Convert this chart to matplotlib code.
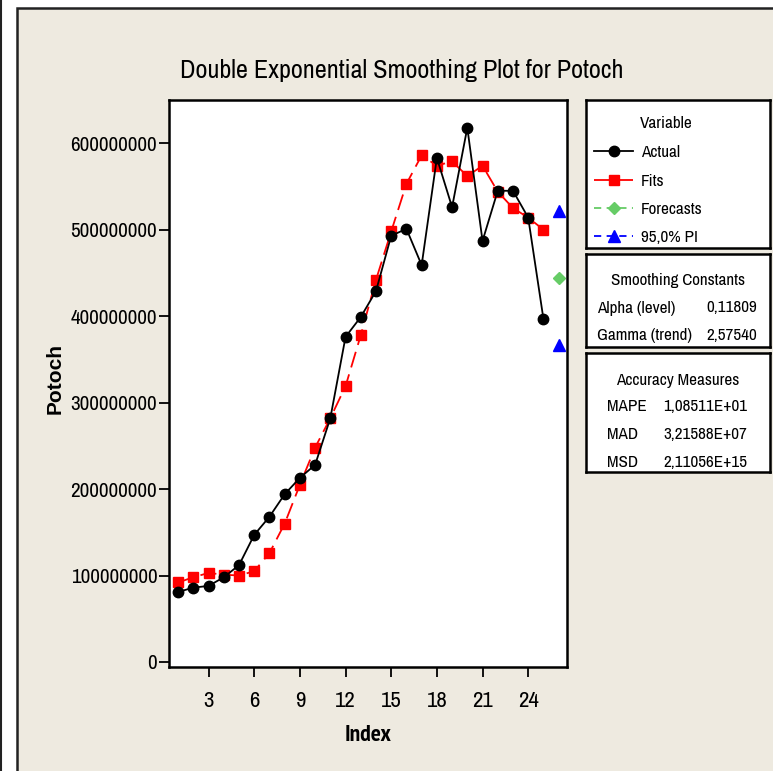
import matplotlib
matplotlib.use('Agg')
import matplotlib.pyplot as plt
import matplotlib.patches as mpatches

NARROW = ['Archivo Narrow', 'PT Sans Narrow', 'DejaVu Sans']
NARROW_BOLD = ['PT Sans Narrow', 'Archivo Narrow', 'DejaVu Sans']
BOLD_WIDE = ['Liberation Sans', 'DejaVu Sans']
plt.rcParams['font.family'] = NARROW

# --- data ---
index = list(range(1, 26))
actual = [81e6, 86e6, 88e6, 98e6, 112e6, 147e6, 168e6, 194e6, 213e6, 228e6,
          282e6, 376e6, 399e6, 429e6, 493e6, 501e6, 459e6, 583e6, 526e6, 618e6,
          487e6, 545e6, 545e6, 514e6, 397e6]
fits = [92e6, 98e6, 103e6, 101e6, 100e6, 105e6, 126e6, 160e6, 205e6, 248e6,
        282e6, 319e6, 378e6, 442e6, 498e6, 553e6, 586e6, 574e6, 579e6, 562e6,
        574e6, 544e6, 525e6, 514e6, 500e6]
forecast_index = [26]
forecasts = [444e6]
pi_index = [26, 26]
pi_bounds = [522e6, 367e6]

xticks = [3, 6, 9, 12, 15, 18, 21, 24]
yticks = [0, 100e6, 200e6, 300e6, 400e6, 500e6, 600e6]

smoothing = [('Alpha (level)', '0,11809'), ('Gamma (trend)', '2,57540')]
accuracy = [('MAPE', '1,08511E+01'), ('MAD', '3,21588E+07'), ('MSD', '2,11056E+15')]

W, H = 773, 771
BG = '#EEEAE0'


def box(x0, y0, x1, y1):
    """pixel box (top-left origin) -> figure rect"""
    return [x0 / W, 1 - y1 / H, (x1 - x0) / W, (y1 - y0) / H]


fig = plt.figure(figsize=(W / 100, H / 100), dpi=100)
fig.patch.set_facecolor('white')

# outer frame like the screenshot
fig.add_artist(mpatches.Rectangle((17 / W, -0.01), 1.01 - 17 / W, 1.01 - 8 / H,
                                  transform=fig.transFigure, facecolor=BG,
                                  edgecolor='#222222', linewidth=1.8, zorder=-5))
fig.add_artist(plt.Line2D([1 / W, 1 / W], [0, 1], transform=fig.transFigure,
                          color='#222222', linewidth=1.5))

ax = fig.add_axes(box(169, 100, 567, 667))
ax.set_facecolor('white')

line_act, = ax.plot(index, actual, color='black', linewidth=1.3, marker='o',
                    markersize=7.5, label='Actual', zorder=3)
line_fit, = ax.plot(index, fits, color='#FF0000', linewidth=1.3,
                    linestyle=(0, (9, 4)), marker='s', markersize=6.8,
                    label='Fits', zorder=2)
line_fc, = ax.plot(forecast_index, forecasts, color='#66CC66', linewidth=1.3,
                   linestyle=(0, (4, 3)), marker='D', markersize=6.5,
                   label='Forecasts', zorder=3)
line_pi, = ax.plot(pi_index, pi_bounds, color='#0000FF', linewidth=0,
                   marker='^', markersize=8, label='95,0% PI', zorder=3)

ax.set_xlim(0.4, 26.55)
ax.set_ylim(-5.8e6, 650e6)
ax.set_xticks(xticks)
ax.set_yticks(yticks)
ax.set_yticklabels([f'{int(v)}' for v in yticks])
ax.tick_params(axis='both', direction='out', width=1.3)
ax.tick_params(axis='x', length=7.5, pad=10, labelsize=16.5)
ax.tick_params(axis='y', length=7, pad=1.5, labelsize=15.2)
for sp in ax.spines.values():
    sp.set_linewidth(1.8)

ax.set_xlabel('Index', fontsize=17, fontweight='bold', labelpad=10,
              family=NARROW_BOLD)
fig.text(55 / W, 1 - 379 / H, 'Potoch', rotation=90, ha='center', va='center',
         fontsize=15, fontweight='bold', family=BOLD_WIDE)
fig.text(402 / W, 1 - 70 / H, 'Double Exponential Smoothing Plot for Potoch',
         ha='center', va='center', fontsize=18.8)

# --- legend panel ---
p1 = fig.add_axes(box(586, 100, 770, 248))
p2 = fig.add_axes(box(586, 254, 770, 347))
p3 = fig.add_axes(box(586, 353, 770, 472))
for p in (p1, p2, p3):
    p.set_xticks([])
    p.set_yticks([])
    p.set_facecolor('white')
    for sp in p.spines.values():
        sp.set_linewidth(1.8)

FS = 12.3
p1.text((640 - 586) / 184, 1 - (124 - 100) / 148, 'Variable', fontsize=FS,
        va='center', ha='left')
pi_handle = plt.Line2D([], [], color='#0000FF', linewidth=1.3,
                       linestyle=(0, (4, 3)), marker='^', markersize=8)
leg = p1.legend([line_act, line_fit, line_fc, pi_handle],
                ['Actual', 'Fits', 'Forecasts', '95,0% PI'],
                loc='upper left', bbox_to_anchor=(-0.022, 0.775), frameon=False,
                fontsize=FS, handlelength=2.3, handletextpad=0.45,
                labelspacing=0.78, borderaxespad=0.3)

p2.text(0.5, 1 - (280 - 254) / 93, 'Smoothing Constants', fontsize=FS,
        ha='center', va='center')
for i, (k, v) in enumerate(smoothing):
    yy = 1 - (308 + 28 * i - 254) / 93
    p2.text((597 - 586) / 184, yy, k, fontsize=FS, ha='left', va='center')
    p2.text((757 - 586) / 184, yy, v, fontsize=FS, ha='right', va='center')

p3.text(0.5, 1 - (380 - 353) / 119, 'Accuracy Measures', fontsize=FS,
        ha='center', va='center')
for i, (k, v) in enumerate(accuracy):
    yy = 1 - (406 + 28 * i - 353) / 119
    p3.text((607 - 586) / 184, yy, k, fontsize=FS, ha='left', va='center')
    p3.text((747 - 586) / 184, yy, v, fontsize=FS, ha='right', va='center')

fig.savefig('out.png', dpi=100, facecolor=fig.get_facecolor())
